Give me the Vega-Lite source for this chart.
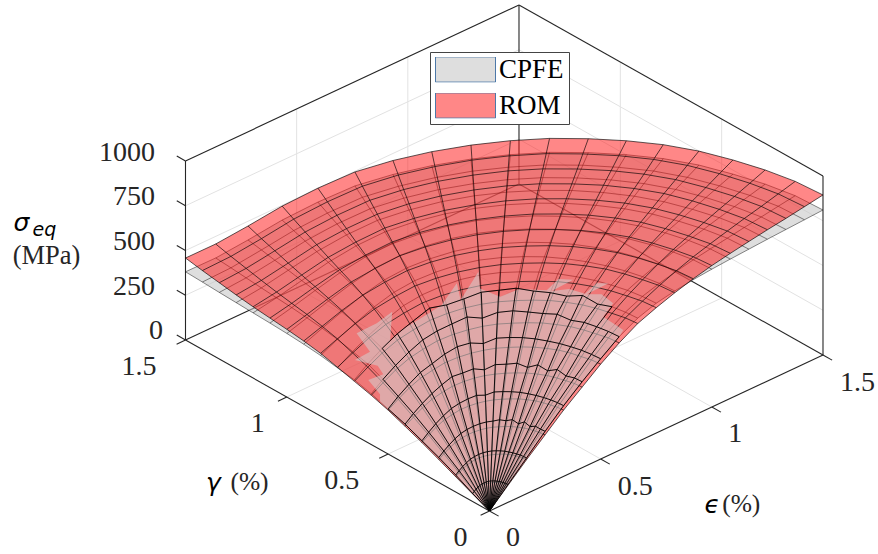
{"$schema":"https://vega.github.io/schema/vega-lite/v6.json","width":878,"height":554,"autosize":{"type":"fit","contains":"padding"},"padding":0,"background":"white","config":{"view":{"stroke":null}},
"data":{"values":[
{"set":"light","seg":"f1","eps":0.5,"gam":0,"sig":0,"n":0},{"set":"light","seg":"f1","eps":0.5,"gam":1.5,"sig":0,"n":1},
{"set":"light","seg":"f2","eps":1,"gam":0,"sig":0,"n":0},{"set":"light","seg":"f2","eps":1,"gam":1.5,"sig":0,"n":1},
{"set":"light","seg":"f3","eps":0,"gam":0.5,"sig":0,"n":0},{"set":"light","seg":"f3","eps":1.5,"gam":0.5,"sig":0,"n":1},
{"set":"light","seg":"f4","eps":0,"gam":1,"sig":0,"n":0},{"set":"light","seg":"f4","eps":1.5,"gam":1,"sig":0,"n":1},
{"set":"light","seg":"l1","eps":0,"gam":1.5,"sig":250,"n":0},{"set":"light","seg":"l1","eps":1.5,"gam":1.5,"sig":250,"n":1},
{"set":"light","seg":"l2","eps":0,"gam":1.5,"sig":500,"n":0},{"set":"light","seg":"l2","eps":1.5,"gam":1.5,"sig":500,"n":1},
{"set":"light","seg":"l3","eps":0,"gam":1.5,"sig":750,"n":0},{"set":"light","seg":"l3","eps":1.5,"gam":1.5,"sig":750,"n":1},
{"set":"light","seg":"l4","eps":0.5,"gam":1.5,"sig":0,"n":0},{"set":"light","seg":"l4","eps":0.5,"gam":1.5,"sig":1000,"n":1},
{"set":"light","seg":"l5","eps":1,"gam":1.5,"sig":0,"n":0},{"set":"light","seg":"l5","eps":1,"gam":1.5,"sig":1000,"n":1},
{"set":"light","seg":"r1","eps":1.5,"gam":0,"sig":250,"n":0},{"set":"light","seg":"r1","eps":1.5,"gam":1.5,"sig":250,"n":1},
{"set":"light","seg":"r2","eps":1.5,"gam":0,"sig":500,"n":0},{"set":"light","seg":"r2","eps":1.5,"gam":1.5,"sig":500,"n":1},
{"set":"light","seg":"r3","eps":1.5,"gam":0,"sig":750,"n":0},{"set":"light","seg":"r3","eps":1.5,"gam":1.5,"sig":750,"n":1},
{"set":"light","seg":"r4","eps":1.5,"gam":0.5,"sig":0,"n":0},{"set":"light","seg":"r4","eps":1.5,"gam":0.5,"sig":1000,"n":1},
{"set":"light","seg":"r5","eps":1.5,"gam":1,"sig":0,"n":0},{"set":"light","seg":"r5","eps":1.5,"gam":1,"sig":1000,"n":1},
{"set":"frame","seg":"a","eps":0,"gam":0,"sig":0,"n":0},{"set":"frame","seg":"a","eps":1.5,"gam":0,"sig":0,"n":1},
{"set":"frame","seg":"b","eps":0,"gam":0,"sig":0,"n":0},{"set":"frame","seg":"b","eps":0,"gam":1.5,"sig":0,"n":1},
{"set":"frame","seg":"c","eps":1.5,"gam":0,"sig":0,"n":0},{"set":"frame","seg":"c","eps":1.5,"gam":1.5,"sig":0,"n":1},
{"set":"frame","seg":"d","eps":0,"gam":1.5,"sig":0,"n":0},{"set":"frame","seg":"d","eps":1.5,"gam":1.5,"sig":0,"n":1},
{"set":"frame","seg":"e","eps":0,"gam":1.5,"sig":0,"n":0},{"set":"frame","seg":"e","eps":0,"gam":1.5,"sig":1000,"n":1},
{"set":"frame","seg":"f","eps":1.5,"gam":0,"sig":0,"n":0},{"set":"frame","seg":"f","eps":1.5,"gam":0,"sig":1000,"n":1},
{"set":"frame","seg":"g","eps":1.5,"gam":1.5,"sig":0,"n":0},{"set":"frame","seg":"g","eps":1.5,"gam":1.5,"sig":1000,"n":1},
{"set":"frame","seg":"h","eps":0,"gam":1.5,"sig":1000,"n":0},{"set":"frame","seg":"h","eps":1.5,"gam":1.5,"sig":1000,"n":1},
{"set":"frame","seg":"i","eps":1.5,"gam":0,"sig":1000,"n":0},{"set":"frame","seg":"i","eps":1.5,"gam":1.5,"sig":1000,"n":1},
{"set":"frame","seg":"s0","eps":0,"gam":1.5,"sig":0,"n":0},{"set":"frame","seg":"s0","eps":0,"gam":1.543,"sig":0,"n":1},
{"set":"frame","seg":"s1","eps":0,"gam":1.5,"sig":250,"n":0},{"set":"frame","seg":"s1","eps":0,"gam":1.543,"sig":250,"n":1},
{"set":"frame","seg":"s2","eps":0,"gam":1.5,"sig":500,"n":0},{"set":"frame","seg":"s2","eps":0,"gam":1.543,"sig":500,"n":1},
{"set":"frame","seg":"s3","eps":0,"gam":1.5,"sig":750,"n":0},{"set":"frame","seg":"s3","eps":0,"gam":1.543,"sig":750,"n":1},
{"set":"frame","seg":"s4","eps":0,"gam":1.5,"sig":1000,"n":0},{"set":"frame","seg":"s4","eps":0,"gam":1.543,"sig":1000,"n":1},
{"set":"frame","seg":"g0","eps":0,"gam":0,"sig":0,"n":0},{"set":"frame","seg":"g0","eps":-0.04,"gam":0,"sig":0,"n":1},
{"set":"frame","seg":"g1","eps":0,"gam":0.5,"sig":0,"n":0},{"set":"frame","seg":"g1","eps":-0.04,"gam":0.5,"sig":0,"n":1},
{"set":"frame","seg":"g2","eps":0,"gam":1,"sig":0,"n":0},{"set":"frame","seg":"g2","eps":-0.04,"gam":1,"sig":0,"n":1},
{"set":"frame","seg":"g3","eps":0,"gam":1.5,"sig":0,"n":0},{"set":"frame","seg":"g3","eps":-0.04,"gam":1.5,"sig":0,"n":1},
{"set":"frame","seg":"e0","eps":0,"gam":0,"sig":0,"n":0},{"set":"frame","seg":"e0","eps":0,"gam":-0.045,"sig":0,"n":1},
{"set":"frame","seg":"e1","eps":0.5,"gam":0,"sig":0,"n":0},{"set":"frame","seg":"e1","eps":0.5,"gam":-0.045,"sig":0,"n":1},
{"set":"frame","seg":"e2","eps":1,"gam":0,"sig":0,"n":0},{"set":"frame","seg":"e2","eps":1,"gam":-0.045,"sig":0,"n":1},
{"set":"frame","seg":"e3","eps":1.5,"gam":0,"sig":0,"n":0},{"set":"frame","seg":"e3","eps":1.5,"gam":-0.045,"sig":0,"n":1},
{"set":"sigA","label":"1000","eps":0,"gam":1.5,"sig":1000},{"set":"sigA","label":"750","eps":0,"gam":1.5,"sig":750},{"set":"sigA","label":"500","eps":0,"gam":1.5,"sig":500},{"set":"sigA","label":"250","eps":0,"gam":1.5,"sig":250},{"set":"sig0","label":"0","eps":0,"gam":1.5,"sig":0},
{"set":"gamW","label":"1.5","eps":0,"gam":1.5,"sig":0},{"set":"gamW","label":"0.5","eps":0,"gam":0.5,"sig":0},{"set":"gamN","label":"1","eps":0,"gam":1,"sig":0},{"set":"gamN","label":"0","eps":0,"gam":0,"sig":0},
{"set":"epsW","label":"1.5","eps":1.5,"gam":0,"sig":0},{"set":"epsW","label":"0.5","eps":0.5,"gam":0,"sig":0},{"set":"epsN","label":"1","eps":1,"gam":0,"sig":0},{"set":"epsN","label":"0","eps":0,"gam":0,"sig":0},
{"set":"tMPa","label":"(MPa)","eps":0,"gam":1.5,"sig":500},{"set":"tSig","label":"σ","eps":0,"gam":1.5,"sig":500},{"set":"tEq","label":"eq","eps":0,"gam":1.5,"sig":500},
{"set":"tGam","label":"γ","eps":0,"gam":0.75,"sig":0},{"set":"tGamU","label":"(%)","eps":0,"gam":0.75,"sig":0},{"set":"tEps","label":"ϵ","eps":0.75,"gam":0,"sig":0},{"set":"tEpsU","label":"(%)","eps":0.75,"gam":0,"sig":0},
{"set":"cross","seq":0,"eps":0,"gam":0,"sig":0},{"set":"cross","seq":1,"eps":0,"gam":0.083,"sig":45},{"set":"cross","seq":2,"eps":0,"gam":0.167,"sig":95},{"set":"cross","seq":3,"eps":0,"gam":0.25,"sig":140},{"set":"cross","seq":4,"eps":0,"gam":0.333,"sig":180},{"set":"cross","seq":5,"eps":0,"gam":0.417,"sig":220},{"set":"cross","seq":6,"eps":0,"gam":0.5,"sig":252},{"set":"cross","seq":7,"eps":0,"gam":0.54,"sig":268},
{"set":"cross","seq":8,"eps":0.03,"gam":0.573,"sig":270},{"set":"cross","seq":9,"eps":0.04,"gam":0.642,"sig":300},{"set":"cross","seq":10,"eps":0.071,"gam":0.602,"sig":340},{"set":"cross","seq":11,"eps":0.086,"gam":0.646,"sig":350},{"set":"cross","seq":12,"eps":0.063,"gam":0.733,"sig":340},{"set":"cross","seq":13,"eps":0.097,"gam":0.696,"sig":390},{"set":"cross","seq":14,"eps":0.137,"gam":0.806,"sig":400},{"set":"cross","seq":15,"eps":0.191,"gam":0.766,"sig":450},{"set":"cross","seq":16,"eps":0.256,"gam":0.761,"sig":480},{"set":"cross","seq":17,"eps":0.167,"gam":0.674,"sig":420},{"set":"cross","seq":18,"eps":0.221,"gam":0.663,"sig":470},{"set":"cross","seq":19,"eps":0.279,"gam":0.633,"sig":520},{"set":"cross","seq":20,"eps":0.345,"gam":0.614,"sig":560},{"set":"cross","seq":21,"eps":0.429,"gam":0.632,"sig":620},{"set":"cross","seq":22,"eps":0.397,"gam":0.578,"sig":580},{"set":"cross","seq":23,"eps":0.517,"gam":0.622,"sig":640},{"set":"cross","seq":24,"eps":0.464,"gam":0.556,"sig":620},{"set":"cross","seq":25,"eps":0.477,"gam":0.471,"sig":620},{"set":"cross","seq":26,"eps":0.519,"gam":0.422,"sig":670},{"set":"cross","seq":27,"eps":0.573,"gam":0.346,"sig":680},{"set":"cross","seq":28,"eps":0.643,"gam":0.366,"sig":690},{"set":"cross","seq":29,"eps":0.676,"gam":0.329,"sig":690},{"set":"cross","seq":30,"eps":0.582,"gam":0.331,"sig":680},{"set":"cross","seq":31,"eps":0.634,"gam":0.302,"sig":680},{"set":"cross","seq":32,"eps":0.652,"gam":0.244,"sig":680},{"set":"cross","seq":33,"eps":0.71,"gam":0.25,"sig":700},{"set":"cross","seq":34,"eps":0.739,"gam":0.224,"sig":700},{"set":"cross","seq":35,"eps":0.653,"gam":0.237,"sig":680},{"set":"cross","seq":36,"eps":0.69,"gam":0.204,"sig":680},{"set":"cross","seq":37,"eps":0.679,"gam":0.135,"sig":680},{"set":"cross","seq":38,"eps":0.627,"gam":0.127,"sig":640},{"set":"cross","seq":39,"eps":0.611,"gam":0.01,"sig":650},
{"set":"cross","seq":40,"eps":0.583,"gam":0,"sig":635},{"set":"cross","seq":41,"eps":0.5,"gam":0,"sig":560},{"set":"cross","seq":42,"eps":0.417,"gam":0,"sig":480},{"set":"cross","seq":43,"eps":0.333,"gam":0,"sig":395},{"set":"cross","seq":44,"eps":0.25,"gam":0,"sig":300},{"set":"cross","seq":45,"eps":0.167,"gam":0,"sig":200},{"set":"cross","seq":46,"eps":0.083,"gam":0,"sig":100},
{"theta":0,"arc":0,"rom":0,"cpfe":0},{"theta":0,"arc":1,"rom":95,"cpfe":100},{"theta":0,"arc":2,"rom":190,"cpfe":200},{"theta":0,"arc":3,"rom":280,"cpfe":300},{"theta":0,"arc":4,"rom":370,"cpfe":395},{"theta":0,"arc":5,"rom":450,"cpfe":480},{"theta":0,"arc":6,"rom":530,"cpfe":560},{"theta":0,"arc":7,"rom":600,"cpfe":635},{"theta":0,"arc":8,"rom":660,"cpfe":690},{"theta":0,"arc":9,"rom":700,"cpfe":725},{"theta":0,"arc":10,"rom":735,"cpfe":745},{"theta":0,"arc":11,"rom":765,"cpfe":760},{"theta":0,"arc":12,"rom":790,"cpfe":770},{"theta":0,"arc":13,"rom":810,"cpfe":778},{"theta":0,"arc":14,"rom":828,"cpfe":785},{"theta":0,"arc":15,"rom":845,"cpfe":792},{"theta":0,"arc":16,"rom":860,"cpfe":798},{"theta":0,"arc":17,"rom":877,"cpfe":804},{"theta":0,"arc":18,"rom":894,"cpfe":810},
{"theta":5,"arc":0,"rom":0,"cpfe":0},{"theta":5,"arc":1,"rom":94,"cpfe":100},{"theta":5,"arc":2,"rom":189,"cpfe":199},{"theta":5,"arc":3,"rom":278,"cpfe":299},{"theta":5,"arc":4,"rom":368,"cpfe":394},{"theta":5,"arc":5,"rom":448,"cpfe":479},{"theta":5,"arc":6,"rom":527,"cpfe":558},{"theta":5,"arc":7,"rom":597,"cpfe":633},{"theta":5,"arc":8,"rom":656,"cpfe":688},{"theta":5,"arc":9,"rom":696,"cpfe":723},{"theta":5,"arc":10,"rom":731,"cpfe":743},{"theta":5,"arc":11,"rom":761,"cpfe":758},{"theta":5,"arc":12,"rom":786,"cpfe":769},{"theta":5,"arc":13,"rom":806,"cpfe":777},{"theta":5,"arc":14,"rom":824,"cpfe":784},{"theta":5,"arc":15,"rom":841,"cpfe":791},{"theta":5,"arc":16,"rom":856,"cpfe":797},{"theta":5,"arc":17,"rom":873,"cpfe":804},{"theta":5,"arc":18,"rom":890,"cpfe":810},
{"theta":10,"arc":0,"rom":0,"cpfe":0},{"theta":10,"arc":1,"rom":93,"cpfe":99},{"theta":10,"arc":2,"rom":187,"cpfe":199},{"theta":10,"arc":3,"rom":275,"cpfe":303},{"theta":10,"arc":4,"rom":364,"cpfe":393},{"theta":10,"arc":5,"rom":443,"cpfe":470},{"theta":10,"arc":6,"rom":521,"cpfe":557},{"theta":10,"arc":7,"rom":590,"cpfe":631},{"theta":10,"arc":8,"rom":649,"cpfe":686},{"theta":10,"arc":9,"rom":689,"cpfe":721},{"theta":10,"arc":10,"rom":723,"cpfe":740},{"theta":10,"arc":11,"rom":753,"cpfe":755},{"theta":10,"arc":12,"rom":778,"cpfe":764},{"theta":10,"arc":13,"rom":797,"cpfe":772},{"theta":10,"arc":14,"rom":815,"cpfe":778},{"theta":10,"arc":15,"rom":832,"cpfe":785},{"theta":10,"arc":16,"rom":847,"cpfe":790},{"theta":10,"arc":17,"rom":864,"cpfe":796},{"theta":10,"arc":18,"rom":881,"cpfe":802},
{"theta":15,"arc":0,"rom":0,"cpfe":0},{"theta":15,"arc":1,"rom":93,"cpfe":99},{"theta":15,"arc":2,"rom":186,"cpfe":198},{"theta":15,"arc":3,"rom":274,"cpfe":290},{"theta":15,"arc":4,"rom":362,"cpfe":392},{"theta":15,"arc":5,"rom":440,"cpfe":488},{"theta":15,"arc":6,"rom":519,"cpfe":555},{"theta":15,"arc":7,"rom":587,"cpfe":630},{"theta":15,"arc":8,"rom":646,"cpfe":672},{"theta":15,"arc":9,"rom":685,"cpfe":718},{"theta":15,"arc":10,"rom":719,"cpfe":737},{"theta":15,"arc":11,"rom":748,"cpfe":751},{"theta":15,"arc":12,"rom":772,"cpfe":760},{"theta":15,"arc":13,"rom":791,"cpfe":767},{"theta":15,"arc":14,"rom":808,"cpfe":772},{"theta":15,"arc":15,"rom":825,"cpfe":778},{"theta":15,"arc":16,"rom":839,"cpfe":783},{"theta":15,"arc":17,"rom":856,"cpfe":788},{"theta":15,"arc":18,"rom":872,"cpfe":793},
{"theta":20,"arc":0,"rom":0,"cpfe":0},{"theta":20,"arc":1,"rom":92,"cpfe":99},{"theta":20,"arc":2,"rom":185,"cpfe":198},{"theta":20,"arc":3,"rom":272,"cpfe":307},{"theta":20,"arc":4,"rom":360,"cpfe":391},{"theta":20,"arc":5,"rom":438,"cpfe":465},{"theta":20,"arc":6,"rom":516,"cpfe":554},{"theta":20,"arc":7,"rom":584,"cpfe":620},{"theta":20,"arc":8,"rom":642,"cpfe":695},{"theta":20,"arc":9,"rom":680,"cpfe":716},{"theta":20,"arc":10,"rom":715,"cpfe":734},{"theta":20,"arc":11,"rom":743,"cpfe":748},{"theta":20,"arc":12,"rom":767,"cpfe":756},{"theta":20,"arc":13,"rom":786,"cpfe":763},{"theta":20,"arc":14,"rom":802,"cpfe":768},{"theta":20,"arc":15,"rom":819,"cpfe":773},{"theta":20,"arc":16,"rom":833,"cpfe":778},{"theta":20,"arc":17,"rom":849,"cpfe":782},{"theta":20,"arc":18,"rom":865,"cpfe":787},
{"theta":25,"arc":0,"rom":0,"cpfe":0},{"theta":25,"arc":1,"rom":91,"cpfe":99},{"theta":25,"arc":2,"rom":183,"cpfe":197},{"theta":25,"arc":3,"rom":269,"cpfe":288},{"theta":25,"arc":4,"rom":356,"cpfe":390},{"theta":25,"arc":5,"rom":433,"cpfe":485},{"theta":25,"arc":6,"rom":510,"cpfe":552},{"theta":25,"arc":7,"rom":577,"cpfe":635},{"theta":25,"arc":8,"rom":635,"cpfe":670},{"theta":25,"arc":9,"rom":673,"cpfe":712},{"theta":25,"arc":10,"rom":706,"cpfe":730},{"theta":25,"arc":11,"rom":734,"cpfe":743},{"theta":25,"arc":12,"rom":757,"cpfe":750},{"theta":25,"arc":13,"rom":775,"cpfe":756},{"theta":25,"arc":14,"rom":792,"cpfe":760},{"theta":25,"arc":15,"rom":807,"cpfe":764},{"theta":25,"arc":16,"rom":821,"cpfe":768},{"theta":25,"arc":17,"rom":837,"cpfe":772},{"theta":25,"arc":18,"rom":853,"cpfe":775},
{"theta":30,"arc":0,"rom":0,"cpfe":0},{"theta":30,"arc":1,"rom":90,"cpfe":98},{"theta":30,"arc":2,"rom":181,"cpfe":197},{"theta":30,"arc":3,"rom":266,"cpfe":305},{"theta":30,"arc":4,"rom":352,"cpfe":389},{"theta":30,"arc":5,"rom":428,"cpfe":460},{"theta":30,"arc":6,"rom":504,"cpfe":551},{"theta":30,"arc":7,"rom":571,"cpfe":624},{"theta":30,"arc":8,"rom":628,"cpfe":672},{"theta":30,"arc":9,"rom":665,"cpfe":709},{"theta":30,"arc":10,"rom":697,"cpfe":725},{"theta":30,"arc":11,"rom":724,"cpfe":737},{"theta":30,"arc":12,"rom":746,"cpfe":743},{"theta":30,"arc":13,"rom":763,"cpfe":747},{"theta":30,"arc":14,"rom":778,"cpfe":749},{"theta":30,"arc":15,"rom":793,"cpfe":752},{"theta":30,"arc":16,"rom":806,"cpfe":754},{"theta":30,"arc":17,"rom":821,"cpfe":756},{"theta":30,"arc":18,"rom":836,"cpfe":758},
{"theta":35,"arc":0,"rom":0,"cpfe":0},{"theta":35,"arc":1,"rom":89,"cpfe":98},{"theta":35,"arc":2,"rom":177,"cpfe":196},{"theta":35,"arc":3,"rom":262,"cpfe":294},{"theta":35,"arc":4,"rom":346,"cpfe":386},{"theta":35,"arc":5,"rom":421,"cpfe":475},{"theta":35,"arc":6,"rom":496,"cpfe":548},{"theta":35,"arc":7,"rom":561,"cpfe":621},{"theta":35,"arc":8,"rom":617,"cpfe":668},{"theta":35,"arc":9,"rom":653,"cpfe":704},{"theta":35,"arc":10,"rom":685,"cpfe":719},{"theta":35,"arc":11,"rom":711,"cpfe":728},{"theta":35,"arc":12,"rom":731,"cpfe":733},{"theta":35,"arc":13,"rom":748,"cpfe":735},{"theta":35,"arc":14,"rom":763,"cpfe":737},{"theta":35,"arc":15,"rom":776,"cpfe":739},{"theta":35,"arc":16,"rom":789,"cpfe":739},{"theta":35,"arc":17,"rom":803,"cpfe":740},{"theta":35,"arc":18,"rom":818,"cpfe":740},
{"theta":40,"arc":0,"rom":0,"cpfe":0},{"theta":40,"arc":1,"rom":87,"cpfe":97},{"theta":40,"arc":2,"rom":174,"cpfe":194},{"theta":40,"arc":3,"rom":257,"cpfe":296},{"theta":40,"arc":4,"rom":340,"cpfe":382},{"theta":40,"arc":5,"rom":414,"cpfe":464},{"theta":40,"arc":6,"rom":487,"cpfe":542},{"theta":40,"arc":7,"rom":551,"cpfe":620},{"theta":40,"arc":8,"rom":606,"cpfe":675},{"theta":40,"arc":9,"rom":641,"cpfe":695},{"theta":40,"arc":10,"rom":672,"cpfe":709},{"theta":40,"arc":11,"rom":697,"cpfe":718},{"theta":40,"arc":12,"rom":717,"cpfe":721},{"theta":40,"arc":13,"rom":733,"cpfe":723},{"theta":40,"arc":14,"rom":747,"cpfe":723},{"theta":40,"arc":15,"rom":760,"cpfe":723},{"theta":40,"arc":16,"rom":772,"cpfe":723},{"theta":40,"arc":17,"rom":786,"cpfe":723},{"theta":40,"arc":18,"rom":800,"cpfe":722},
{"theta":45,"arc":0,"rom":0,"cpfe":0},{"theta":45,"arc":1,"rom":85,"cpfe":96},{"theta":45,"arc":2,"rom":171,"cpfe":192},{"theta":45,"arc":3,"rom":253,"cpfe":287},{"theta":45,"arc":4,"rom":334,"cpfe":378},{"theta":45,"arc":5,"rom":406,"cpfe":459},{"theta":45,"arc":6,"rom":479,"cpfe":535},{"theta":45,"arc":7,"rom":542,"cpfe":607},{"theta":45,"arc":8,"rom":595,"cpfe":659},{"theta":45,"arc":9,"rom":629,"cpfe":686},{"theta":45,"arc":10,"rom":659,"cpfe":698},{"theta":45,"arc":11,"rom":683,"cpfe":705},{"theta":45,"arc":12,"rom":701,"cpfe":707},{"theta":45,"arc":13,"rom":715,"cpfe":707},{"theta":45,"arc":14,"rom":728,"cpfe":706},{"theta":45,"arc":15,"rom":740,"cpfe":705},{"theta":45,"arc":16,"rom":752,"cpfe":703},{"theta":45,"arc":17,"rom":764,"cpfe":701},{"theta":45,"arc":18,"rom":777,"cpfe":699},
{"theta":50,"arc":0,"rom":0,"cpfe":0},{"theta":50,"arc":1,"rom":83,"cpfe":94},{"theta":50,"arc":2,"rom":167,"cpfe":188},{"theta":50,"arc":3,"rom":247,"cpfe":282},{"theta":50,"arc":4,"rom":326,"cpfe":360},{"theta":50,"arc":5,"rom":397,"cpfe":430},{"theta":50,"arc":6,"rom":467,"cpfe":505},{"theta":50,"arc":7,"rom":529,"cpfe":575},{"theta":50,"arc":8,"rom":581,"cpfe":648},{"theta":50,"arc":9,"rom":613,"cpfe":672},{"theta":50,"arc":10,"rom":642,"cpfe":684},{"theta":50,"arc":11,"rom":664,"cpfe":689},{"theta":50,"arc":12,"rom":682,"cpfe":690},{"theta":50,"arc":13,"rom":695,"cpfe":689},{"theta":50,"arc":14,"rom":706,"cpfe":686},{"theta":50,"arc":15,"rom":717,"cpfe":684},{"theta":50,"arc":16,"rom":728,"cpfe":680},{"theta":50,"arc":17,"rom":740,"cpfe":678},{"theta":50,"arc":18,"rom":752,"cpfe":674},
{"theta":55,"arc":0,"rom":0,"cpfe":0},{"theta":55,"arc":1,"rom":81,"cpfe":91},{"theta":55,"arc":2,"rom":162,"cpfe":183},{"theta":55,"arc":3,"rom":239,"cpfe":274},{"theta":55,"arc":4,"rom":316,"cpfe":361},{"theta":55,"arc":5,"rom":385,"cpfe":438},{"theta":55,"arc":6,"rom":453,"cpfe":511},{"theta":55,"arc":7,"rom":512,"cpfe":585},{"theta":55,"arc":8,"rom":563,"cpfe":615},{"theta":55,"arc":9,"rom":594,"cpfe":652},{"theta":55,"arc":10,"rom":622,"cpfe":662},{"theta":55,"arc":11,"rom":643,"cpfe":667},{"theta":55,"arc":12,"rom":659,"cpfe":667},{"theta":55,"arc":13,"rom":671,"cpfe":665},{"theta":55,"arc":14,"rom":682,"cpfe":662},{"theta":55,"arc":15,"rom":692,"cpfe":659},{"theta":55,"arc":16,"rom":702,"cpfe":655},{"theta":55,"arc":17,"rom":713,"cpfe":651},{"theta":55,"arc":18,"rom":725,"cpfe":647},
{"theta":60,"arc":0,"rom":0,"cpfe":0},{"theta":60,"arc":1,"rom":78,"cpfe":87},{"theta":60,"arc":2,"rom":155,"cpfe":176},{"theta":60,"arc":3,"rom":230,"cpfe":263},{"theta":60,"arc":4,"rom":304,"cpfe":346},{"theta":60,"arc":5,"rom":370,"cpfe":420},{"theta":60,"arc":6,"rom":436,"cpfe":497},{"theta":60,"arc":7,"rom":493,"cpfe":554},{"theta":60,"arc":8,"rom":541,"cpfe":590},{"theta":60,"arc":9,"rom":571,"cpfe":623},{"theta":60,"arc":10,"rom":598,"cpfe":633},{"theta":60,"arc":11,"rom":618,"cpfe":638},{"theta":60,"arc":12,"rom":633,"cpfe":638},{"theta":60,"arc":13,"rom":644,"cpfe":636},{"theta":60,"arc":14,"rom":653,"cpfe":633},{"theta":60,"arc":15,"rom":664,"cpfe":629},{"theta":60,"arc":16,"rom":673,"cpfe":625},{"theta":60,"arc":17,"rom":684,"cpfe":621},{"theta":60,"arc":18,"rom":695,"cpfe":617},
{"theta":65,"arc":0,"rom":0,"cpfe":0},{"theta":65,"arc":1,"rom":74,"cpfe":83},{"theta":65,"arc":2,"rom":148,"cpfe":167},{"theta":65,"arc":3,"rom":219,"cpfe":250},{"theta":65,"arc":4,"rom":290,"cpfe":328},{"theta":65,"arc":5,"rom":353,"cpfe":408},{"theta":65,"arc":6,"rom":416,"cpfe":465},{"theta":65,"arc":7,"rom":470,"cpfe":526},{"theta":65,"arc":8,"rom":516,"cpfe":585},{"theta":65,"arc":9,"rom":545,"cpfe":591},{"theta":65,"arc":10,"rom":571,"cpfe":601},{"theta":65,"arc":11,"rom":589,"cpfe":605},{"theta":65,"arc":12,"rom":603,"cpfe":605},{"theta":65,"arc":13,"rom":612,"cpfe":602},{"theta":65,"arc":14,"rom":621,"cpfe":599},{"theta":65,"arc":15,"rom":630,"cpfe":595},{"theta":65,"arc":16,"rom":639,"cpfe":591},{"theta":65,"arc":17,"rom":649,"cpfe":587},{"theta":65,"arc":18,"rom":660,"cpfe":582},
{"theta":70,"arc":0,"rom":0,"cpfe":0},{"theta":70,"arc":1,"rom":68,"cpfe":77},{"theta":70,"arc":2,"rom":137,"cpfe":157},{"theta":70,"arc":3,"rom":204,"cpfe":234},{"theta":70,"arc":4,"rom":270,"cpfe":307},{"theta":70,"arc":5,"rom":329,"cpfe":373},{"theta":70,"arc":6,"rom":387,"cpfe":425},{"theta":70,"arc":7,"rom":438,"cpfe":491},{"theta":70,"arc":8,"rom":480,"cpfe":530},{"theta":70,"arc":9,"rom":507,"cpfe":550},{"theta":70,"arc":10,"rom":531,"cpfe":558},{"theta":70,"arc":11,"rom":547,"cpfe":561},{"theta":70,"arc":12,"rom":558,"cpfe":560},{"theta":70,"arc":13,"rom":566,"cpfe":556},{"theta":70,"arc":14,"rom":573,"cpfe":551},{"theta":70,"arc":15,"rom":581,"cpfe":546},{"theta":70,"arc":16,"rom":589,"cpfe":541},{"theta":70,"arc":17,"rom":598,"cpfe":535},{"theta":70,"arc":18,"rom":608,"cpfe":530},
{"theta":75,"arc":0,"rom":0,"cpfe":0},{"theta":75,"arc":1,"rom":63,"cpfe":70},{"theta":75,"arc":2,"rom":127,"cpfe":142},{"theta":75,"arc":3,"rom":189,"cpfe":212},{"theta":75,"arc":4,"rom":250,"cpfe":277},{"theta":75,"arc":5,"rom":305,"cpfe":337},{"theta":75,"arc":6,"rom":359,"cpfe":391},{"theta":75,"arc":7,"rom":405,"cpfe":441},{"theta":75,"arc":8,"rom":444,"cpfe":480},{"theta":75,"arc":9,"rom":468,"cpfe":494},{"theta":75,"arc":10,"rom":490,"cpfe":503},{"theta":75,"arc":11,"rom":504,"cpfe":505},{"theta":75,"arc":12,"rom":514,"cpfe":504},{"theta":75,"arc":13,"rom":519,"cpfe":501},{"theta":75,"arc":14,"rom":524,"cpfe":496},{"theta":75,"arc":15,"rom":531,"cpfe":492},{"theta":75,"arc":16,"rom":538,"cpfe":487},{"theta":75,"arc":17,"rom":546,"cpfe":482},{"theta":75,"arc":18,"rom":555,"cpfe":477},
{"theta":80,"arc":0,"rom":0,"cpfe":0},{"theta":80,"arc":1,"rom":56,"cpfe":62},{"theta":80,"arc":2,"rom":113,"cpfe":127},{"theta":80,"arc":3,"rom":169,"cpfe":188},{"theta":80,"arc":4,"rom":224,"cpfe":245},{"theta":80,"arc":5,"rom":273,"cpfe":298},{"theta":80,"arc":6,"rom":322,"cpfe":344},{"theta":80,"arc":7,"rom":363,"cpfe":389},{"theta":80,"arc":8,"rom":397,"cpfe":423},{"theta":80,"arc":9,"rom":420,"cpfe":435},{"theta":80,"arc":10,"rom":440,"cpfe":443},{"theta":80,"arc":11,"rom":453,"cpfe":446},{"theta":80,"arc":12,"rom":460,"cpfe":445},{"theta":80,"arc":13,"rom":465,"cpfe":443},{"theta":80,"arc":14,"rom":469,"cpfe":438},{"theta":80,"arc":15,"rom":475,"cpfe":435},{"theta":80,"arc":16,"rom":483,"cpfe":430},{"theta":80,"arc":17,"rom":490,"cpfe":427},{"theta":80,"arc":18,"rom":500,"cpfe":422},
{"theta":85,"arc":0,"rom":0,"cpfe":0},{"theta":85,"arc":1,"rom":49,"cpfe":53},{"theta":85,"arc":2,"rom":99,"cpfe":111},{"theta":85,"arc":3,"rom":148,"cpfe":164},{"theta":85,"arc":4,"rom":196,"cpfe":212},{"theta":85,"arc":5,"rom":239,"cpfe":259},{"theta":85,"arc":6,"rom":282,"cpfe":298},{"theta":85,"arc":7,"rom":317,"cpfe":336},{"theta":85,"arc":8,"rom":347,"cpfe":365},{"theta":85,"arc":9,"rom":369,"cpfe":377},{"theta":85,"arc":10,"rom":391,"cpfe":388},{"theta":85,"arc":11,"rom":404,"cpfe":393},{"theta":85,"arc":12,"rom":413,"cpfe":394},{"theta":85,"arc":13,"rom":418,"cpfe":394},{"theta":85,"arc":14,"rom":424,"cpfe":392},{"theta":85,"arc":15,"rom":432,"cpfe":390},{"theta":85,"arc":16,"rom":442,"cpfe":389},{"theta":85,"arc":17,"rom":452,"cpfe":388},{"theta":85,"arc":18,"rom":464,"cpfe":386},
{"theta":90,"arc":0,"rom":0,"cpfe":0},{"theta":90,"arc":1,"rom":42,"cpfe":45},{"theta":90,"arc":2,"rom":85,"cpfe":95},{"theta":90,"arc":3,"rom":128,"cpfe":140},{"theta":90,"arc":4,"rom":170,"cpfe":180},{"theta":90,"arc":5,"rom":208,"cpfe":220},{"theta":90,"arc":6,"rom":245,"cpfe":252},{"theta":90,"arc":7,"rom":275,"cpfe":283},{"theta":90,"arc":8,"rom":300,"cpfe":308},{"theta":90,"arc":9,"rom":325,"cpfe":322},{"theta":90,"arc":10,"rom":350,"cpfe":338},{"theta":90,"arc":11,"rom":366,"cpfe":348},{"theta":90,"arc":12,"rom":378,"cpfe":355},{"theta":90,"arc":13,"rom":388,"cpfe":360},{"theta":90,"arc":14,"rom":398,"cpfe":364},{"theta":90,"arc":15,"rom":411,"cpfe":368},{"theta":90,"arc":16,"rom":426,"cpfe":372},{"theta":90,"arc":17,"rom":441,"cpfe":377},{"theta":90,"arc":18,"rom":458,"cpfe":381}
]},
"transform":[
{"calculate":"isValid(datum.theta)?datum.arc/12*cos(datum.theta*PI/180):datum.eps","as":"e"},
{"calculate":"isValid(datum.theta)?datum.arc/12*sin(datum.theta*PI/180):datum.gam","as":"g"},
{"calculate":"489.5+222.33*datum.e-202.67*datum.g","as":"sx"},
{"calculate":"511-104*datum.e-114*datum.g","as":"b"},
{"calculate":"datum.b-0.179*datum.sig","as":"sy"},
{"calculate":"datum.b-0.179*datum.rom","as":"sr"},
{"calculate":"datum.b-0.179*datum.cpfe","as":"sc"},
{"calculate":"datum.theta==90?datum.arc:(datum.arc==18?18+(90-datum.theta)/5:54-datum.arc)","as":"edge"}
],
"encoding":{"x":{"field":"sx","type":"quantitative","scale":{"domain":[0,878],"nice":false,"zero":false},"axis":null}},
"layer":[
{"transform":[{"filter":"datum.set=='light'"}],"mark":{"type":"line","stroke":"#e2e2e2","strokeWidth":1},"encoding":{"y":{"field":"sy","type":"quantitative","scale":{"domain":[554,0],"nice":false,"zero":false},"axis":null},"detail":{"field":"seg"},"order":{"field":"n"}}},
{"transform":[{"filter":"datum.set=='frame'"}],"mark":{"type":"line","stroke":"#262626","strokeWidth":1.1},"encoding":{"y":{"field":"sy","type":"quantitative","axis":null},"detail":{"field":"seg"},"order":{"field":"n"}}},
{"transform":[{"filter":"isValid(datum.theta)&&(datum.theta==0||datum.theta==90||datum.arc==18)"}],"mark":{"type":"line","strokeOpacity":0},"encoding":{"y":{"field":"sc","type":"quantitative","axis":null},"order":{"field":"edge"},"fill":{"datum":"CPFE","type":"nominal","scale":{"domain":["CPFE","ROM"],"range":["rgba(195,195,195,0.55)","rgba(255,15,15,0.5)"]},"legend":{"title":null,"orient":"none","legendX":430,"legendY":52,"symbolType":"M-1,-0.42H1V0.42H-1Z","symbolSize":3600,"symbolStrokeColor":"#666","symbolStrokeWidth":1,"symbolOpacity":1,"clipHeight":25,"rowPadding":8,"labelFont":"Liberation Serif","labelFontSize":27,"labelColor":"#000","labelOffset":3,"fillColor":"white","strokeColor":"#444","padding":5}}}},
{"transform":[{"filter":"isValid(datum.theta)"}],"mark":{"type":"line","stroke":"#000","strokeWidth":0.7,"strokeOpacity":0.65},"encoding":{"y":{"field":"sc","type":"quantitative","axis":null},"detail":{"field":"theta"},"order":{"field":"arc"}}},
{"transform":[{"filter":"isValid(datum.theta)&&datum.arc>0"}],"mark":{"type":"line","stroke":"#000","strokeWidth":0.7,"strokeOpacity":0.65},"encoding":{"y":{"field":"sc","type":"quantitative","axis":null},"detail":{"field":"arc"},"order":{"field":"theta"}}},
{"transform":[{"filter":"isValid(datum.theta)&&(datum.theta==0||datum.theta==90||datum.arc==18)"}],"mark":{"type":"line","strokeOpacity":0},"encoding":{"y":{"field":"sr","type":"quantitative","axis":null},"order":{"field":"edge"},"fill":{"datum":"ROM","type":"nominal"}}},
{"transform":[{"filter":"isValid(datum.theta)"}],"mark":{"type":"line","stroke":"#000","strokeWidth":0.8,"strokeOpacity":0.8},"encoding":{"y":{"field":"sr","type":"quantitative","axis":null},"detail":{"field":"theta"},"order":{"field":"arc"}}},
{"transform":[{"filter":"isValid(datum.theta)&&datum.arc>0"}],"mark":{"type":"line","stroke":"#000","strokeWidth":0.8,"strokeOpacity":0.8},"encoding":{"y":{"field":"sr","type":"quantitative","axis":null},"detail":{"field":"arc"},"order":{"field":"theta"}}},
{"transform":[{"filter":"datum.set=='cross'"}],"mark":{"type":"line","fill":"rgba(209,209,209,0.55)","strokeOpacity":0},"encoding":{"y":{"field":"sy","type":"quantitative","axis":null},"order":{"field":"seq"}}},
{"transform":[{"filter":"isValid(datum.theta)&&datum.arc<=(datum.theta==90?6:datum.theta==85?7:datum.theta<=5?7:8)"}],"mark":{"type":"line","stroke":"#000","strokeWidth":1,"strokeOpacity":0.9},"encoding":{"y":{"field":"sc","type":"quantitative","axis":null},"detail":{"field":"theta"},"order":{"field":"arc"}}},
{"transform":[{"filter":"isValid(datum.theta)&&datum.arc>0&&datum.arc<=(datum.theta==90?6:datum.theta==85?7:datum.theta<=5?7:8)"}],"mark":{"type":"line","stroke":"#000","strokeWidth":1,"strokeOpacity":0.9},"encoding":{"y":{"field":"sc","type":"quantitative","axis":null},"detail":{"field":"arc"},"order":{"field":"theta"}}},
{"transform":[{"filter":"datum.set=='sigA'"}],"mark":{"type":"text","font":"Liberation Serif","fontSize":28,"color":"#262626","align":"right","baseline":"middle","dx":-30.5,"dy":-8.5},"encoding":{"y":{"field":"sy","type":"quantitative","axis":null},"text":{"field":"label"}}},
{"transform":[{"filter":"datum.set=='sig0'"}],"mark":{"type":"text","font":"Liberation Serif","fontSize":28,"color":"#262626","align":"right","baseline":"middle","dx":-22.5,"dy":-9},"encoding":{"y":{"field":"sy","type":"quantitative","axis":null},"text":{"field":"label"}}},
{"transform":[{"filter":"datum.set=='gamW'"}],"mark":{"type":"text","font":"Liberation Serif","fontSize":28,"color":"#262626","align":"center","baseline":"middle","dx":-46.5,"dy":26.5},"encoding":{"y":{"field":"sy","type":"quantitative","axis":null},"text":{"field":"label"}}},
{"transform":[{"filter":"datum.set=='gamN'"}],"mark":{"type":"text","font":"Liberation Serif","fontSize":28,"color":"#262626","align":"center","baseline":"middle","dx":-29,"dy":27},"encoding":{"y":{"field":"sy","type":"quantitative","axis":null},"text":{"field":"label"}}},
{"transform":[{"filter":"datum.set=='epsW'"}],"mark":{"type":"text","font":"Liberation Serif","fontSize":28,"color":"#262626","align":"center","baseline":"middle","dx":34.5,"dy":27.5},"encoding":{"y":{"field":"sy","type":"quantitative","axis":null},"text":{"field":"label"}}},
{"transform":[{"filter":"datum.set=='epsN'"}],"mark":{"type":"text","font":"Liberation Serif","fontSize":28,"color":"#262626","align":"center","baseline":"middle","dx":23.5,"dy":27},"encoding":{"y":{"field":"sy","type":"quantitative","axis":null},"text":{"field":"label"}}},
{"transform":[{"filter":"datum.set=='tMPa'"}],"mark":{"type":"text","font":"Liberation Serif","fontSize":26.5,"color":"#262626","align":"center","baseline":"middle","dx":-139,"dy":5},"encoding":{"y":{"field":"sy","type":"quantitative","axis":null},"text":{"field":"label"}}},
{"transform":[{"filter":"datum.set=='tSig'"}],"mark":{"type":"text","font":"DejaVu Sans","fontStyle":"italic","fontSize":25,"color":"#000","align":"left","baseline":"middle","dx":-172,"dy":-28},"encoding":{"y":{"field":"sy","type":"quantitative","axis":null},"text":{"field":"label"}}},
{"transform":[{"filter":"datum.set=='tEq'"}],"mark":{"type":"text","font":"DejaVu Sans","fontStyle":"italic","fontSize":19,"color":"#000","align":"left","baseline":"middle","dx":-153,"dy":-21},"encoding":{"y":{"field":"sy","type":"quantitative","axis":null},"text":{"field":"label"}}},
{"transform":[{"filter":"datum.set=='tGam'"}],"mark":{"type":"text","font":"DejaVu Sans","fontStyle":"italic","fontSize":25,"color":"#000","align":"center","baseline":"middle","dx":-124,"dy":57},"encoding":{"y":{"field":"sy","type":"quantitative","axis":null},"text":{"field":"label"}}},
{"transform":[{"filter":"datum.set=='tGamU'"}],"mark":{"type":"text","font":"Liberation Serif","fontSize":25.5,"color":"#262626","align":"center","baseline":"middle","dx":-88,"dy":56},"encoding":{"y":{"field":"sy","type":"quantitative","axis":null},"text":{"field":"label"}}},
{"transform":[{"filter":"datum.set=='tEps'"}],"mark":{"type":"text","font":"DejaVu Sans","fontStyle":"italic","fontSize":25,"color":"#000","align":"center","baseline":"middle","dx":56,"dy":72},"encoding":{"y":{"field":"sy","type":"quantitative","axis":null},"text":{"field":"label"}}},
{"transform":[{"filter":"datum.set=='tEpsU'"}],"mark":{"type":"text","font":"Liberation Serif","fontSize":25.5,"color":"#262626","align":"center","baseline":"middle","dx":85,"dy":71},"encoding":{"y":{"field":"sy","type":"quantitative","axis":null},"text":{"field":"label"}}}
]}
